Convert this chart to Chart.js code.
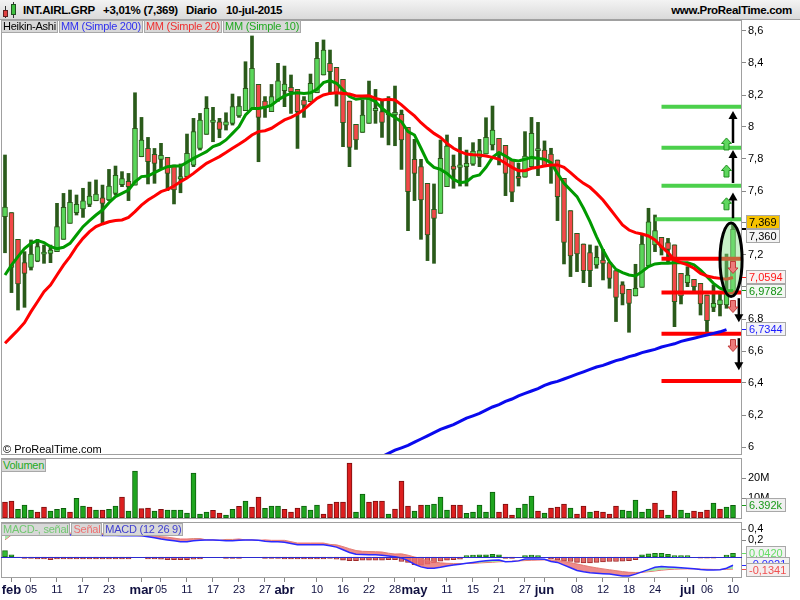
<!DOCTYPE html>
<html>
<head>
<meta charset="utf-8">
<title>INT.AIRL.GRP - Diario</title>
<script src="https://cdn.jsdelivr.net/npm/chart.js@4.4.1/dist/chart.umd.min.js"></script>
<style>
  body { margin: 0; background: #fff; font-family: 'Liberation Sans', Arial, sans-serif; }
  #wrap { position: relative; width: 800px; height: 600px; overflow: hidden; background: #fff; }
  canvas { position: absolute; left: 0; }
  #hdr { position: absolute; left: 0; top: 0; width: 800px; height: 19px; background: linear-gradient(#f3f3f3, #dadada); border-bottom: 1px solid #a0a0a0; }
  .ht { position: absolute; top: 3px; font-weight: bold; font-size: 11.5px; letter-spacing: -0.3px; line-height: 14px; color: #000; white-space: nowrap; }
  .lgrow { position: absolute; left: 1px; display: flex; }
  .lg { font-size: 11px; letter-spacing: -0.25px; line-height: 11px; height: 11px; padding: 0 1px; background: #d8d8d8; border: 1px solid #a8a8a8; margin-right: 1px; white-space: nowrap; }
  .note { position: absolute; font-size: 11px; color: #000; white-space: nowrap; }
  .ic { position: absolute; }
</style>
</head>
<body>
<div id="wrap">
  <div id="hdr">
    <div class="ic" style="left:5px;top:6px;width:1px;height:12px;background:#333"></div>
    <div class="ic" style="left:3px;top:10px;width:3px;height:5px;background:#e04040;border:1px solid #602020"></div>
    <div class="ic" style="left:13px;top:2px;width:1px;height:16px;background:#333"></div>
    <div class="ic" style="left:11px;top:4px;width:3px;height:9px;background:#40c040;border:1px solid #205020"></div>
    <span class="ht" style="left:23px">INT.AIRL.GRP</span>
    <span class="ht" style="left:103px">+3,01% (7,369)</span>
    <span class="ht" style="left:186px">Diario</span>
    <span class="ht" style="left:226px">10-jul-2015</span>
    <span class="ht" style="right:8px">www.ProRealTime.com</span>
  </div>

  <canvas id="cPrice" width="800" height="435" style="top:20px"></canvas>
  <canvas id="cVol" width="800" height="61" style="top:458px"></canvas>
  <canvas id="cMacd" width="800" height="78" style="top:522px"></canvas>

  <div class="lgrow" style="top:20px">
    <div class="lg" style="color:#000">Heikin-Ashi</div>
    <div class="lg" style="color:#3030ee">MM (Simple 200)</div>
    <div class="lg" style="color:#ee3030">MM (Simple 20)</div>
    <div class="lg" style="color:#22aa22">MM (Simple 10)</div>
  </div>
  <div class="note" style="left:3px;top:443px">© ProRealTime.com</div>
  <div class="lgrow" style="top:459px">
    <div class="lg" style="color:#22aa22">Volumen</div>
  </div>
  <div class="lgrow" style="top:523px">
    <div class="lg" style="color:#70c870">MACD-, señal</div>
    <div class="lg" style="color:#ee7070">Señal</div>
    <div class="lg" style="color:#4040d0">MACD (12 26 9)</div>
  </div>
</div>

<script>
// sessions from 30 Jan 2015 to 10 Jul 2015; x index 0 = 2 Feb
const xStart = -1;
const xMin = -1.615, xMax = 112.385;

const tickIdx = [0, 3, 7, 11, 15, 20, 23, 27, 31, 35, 39, 42, 47, 51, 55, 59,
                 62, 67, 71, 75, 79, 82, 87, 91, 95, 99, 104, 107, 111];
const tickText = ['feb', '05', '11', '17', '23', 'mar', '05', '11', '17', '23', '27', 'abr', '10', '16', '22', '28',
                  'may', '11', '15', '21', '27', 'jun', '08', '12', '18', '24', 'jul', '06', '10'];
const monthNames = ['feb', 'mar', 'abr', 'may', 'jun', 'jul'];

// Heikin-Ashi candles
const haOpen = [
  7.44, 7.465, 7.298, 7.152, 7.123, 7.162, 7.205, 7.21, 7.221, 7.298,
  7.398, 7.465, 7.488, 7.516, 7.539, 7.558, 7.544, 7.585, 7.64, 7.66,
  7.637, 7.814, 7.866, 7.829, 7.798, 7.81, 7.762, 7.675, 7.69, 7.762,
  7.866, 7.954, 8.029, 8.033, 8.012, 8.023, 8.069, 8.102, 8.112, 8.266,
  8.162, 8.096, 8.169, 8.227, 8.248, 8.235, 8.169, 8.158, 8.214, 8.325,
  8.398, 8.373, 8.298, 8.162, 8.016, 7.966, 8.023, 8.102, 8.096, 8.085,
  8.075, 8.079, 7.998, 7.798, 7.752, 7.648, 7.486, 7.46, 7.627, 7.756,
  7.748, 7.752, 7.767, 7.81, 7.831, 7.888, 7.929, 7.885, 7.798, 7.69,
  7.686, 7.752, 7.852, 7.856, 7.831, 7.794, 7.679, 7.477, 7.335, 7.269,
  7.215, 7.138, 7.169, 7.152, 7.102, 7.013, 6.985, 6.944, 6.998, 7.131,
  7.263, 7.31, 7.277, 7.263, 7.085, 7.027, 7.048, 7.023, 6.95, 6.873,
  6.89, 6.888, 6.96];
const haHigh = [
  7.825, 7.465, 7.298, 7.221, 7.294, 7.298, 7.262, 7.262, 7.523, 7.585,
  7.606, 7.575, 7.617, 7.656, 7.669, 7.637, 7.735, 7.756, 7.721, 7.71,
  8.214, 8.06, 7.935, 7.866, 7.898, 7.81, 7.762, 7.769, 7.956, 8.054,
  8.085, 8.19, 8.123, 8.054, 8.089, 8.206, 8.19, 8.408, 8.569, 8.266,
  8.19, 8.266, 8.398, 8.381, 8.325, 8.235, 8.19, 8.331, 8.529, 8.544,
  8.481, 8.373, 8.298, 8.162, 8.016, 8.169, 8.287, 8.235, 8.169, 8.19,
  8.256, 8.106, 7.998, 7.923, 7.798, 7.648, 7.644, 7.919, 7.95, 7.825,
  7.935, 7.856, 7.902, 7.923, 8.058, 8.131, 7.929, 7.885, 7.798, 7.773,
  7.971, 8.06, 8.029, 7.913, 7.867, 7.794, 7.679, 7.477, 7.335, 7.269,
  7.263, 7.256, 7.235, 7.152, 7.102, 7.033, 6.985, 7.142, 7.325, 7.492,
  7.45, 7.31, 7.304, 7.263, 7.085, 7.127, 7.048, 7.023, 6.95, 7.013,
  6.96, 7.206, 7.388];
const haLow = [
  7.214, 6.965, 6.856, 6.873, 7.106, 7.158, 7.148, 7.152, 7.221, 7.298,
  7.398, 7.45, 7.435, 7.502, 7.539, 7.394, 7.54, 7.575, 7.627, 7.54,
  7.637, 7.814, 7.644, 7.648, 7.741, 7.602, 7.519, 7.589, 7.69, 7.752,
  7.856, 7.954, 7.908, 7.933, 7.981, 8.012, 8.06, 8.102, 8.112, 7.783,
  8.06, 8.096, 8.16, 8.127, 8.085, 7.866, 8.06, 8.158, 8.214, 8.325,
  8.214, 8.131, 7.877, 7.752, 7.86, 7.966, 8.023, 8.023, 7.935, 7.888,
  7.883, 7.735, 7.352, 7.54, 7.298, 7.165, 7.148, 7.46, 7.627, 7.617,
  7.631, 7.631, 7.76, 7.752, 7.831, 7.856, 7.763, 7.571, 7.533, 7.631,
  7.686, 7.752, 7.696, 7.756, 7.648, 7.415, 7.144, 7.065, 7.096, 7.027,
  7.002, 7.117, 7.044, 6.992, 6.784, 6.888, 6.717, 6.944, 6.998, 7.131,
  7.221, 7.2, 7.158, 6.752, 6.894, 7.002, 6.971, 6.825, 6.721, 6.846,
  6.819, 6.867, 6.96];
const haClose = [
  7.50, 7.123, 7.019, 7.085, 7.206, 7.252, 7.212, 7.231, 7.377, 7.498,
  7.529, 7.516, 7.539, 7.569, 7.581, 7.523, 7.631, 7.698, 7.677, 7.627,
  7.991, 7.919, 7.783, 7.773, 7.823, 7.71, 7.606, 7.69, 7.835, 7.971,
  8.044, 8.116, 8.044, 7.985, 8.033, 8.127, 8.131, 8.241, 8.366, 8.06,
  8.127, 8.19, 8.289, 8.269, 8.221, 8.096, 8.137, 8.273, 8.429, 8.481,
  8.346, 8.21, 8.027, 7.873, 7.919, 8.075, 8.175, 8.117, 8.029, 8.075,
  8.092, 7.919, 7.596, 7.71, 7.544, 7.325, 7.429, 7.804, 7.881, 7.735,
  7.763, 7.773, 7.85, 7.852, 7.935, 7.981, 7.831, 7.71, 7.592, 7.679,
  7.819, 7.96, 7.861, 7.756, 7.773, 7.565, 7.279, 7.194, 7.206, 7.102,
  7.102, 7.185, 7.148, 7.054, 6.935, 6.956, 6.898, 6.992, 7.269, 7.408,
  7.352, 7.248, 7.235, 6.908, 6.944, 7.075, 7.002, 6.894, 6.79, 6.898,
  6.92, 6.96, 7.36];

// moving averages
const ma10 = [
  7.075, 7.137, 7.19, 7.24, 7.273, 7.29, 7.277, 7.252, 7.24, 7.248,
  7.273, 7.325, 7.377, 7.415, 7.45, 7.481, 7.527, 7.565, 7.585, 7.606,
  7.658, 7.69, 7.694, 7.715, 7.735, 7.752, 7.756, 7.756, 7.78, 7.804,
  7.825, 7.846, 7.877, 7.892, 7.919, 7.96, 8.002, 8.075, 8.116, 8.116,
  8.123, 8.137, 8.169, 8.194, 8.21, 8.214, 8.21, 8.214, 8.235, 8.277,
  8.29, 8.273, 8.231, 8.19, 8.173, 8.179, 8.179, 8.158, 8.117, 8.085,
  8.06, 8.033, 7.971, 7.95, 7.867, 7.783, 7.748, 7.735, 7.71, 7.673,
  7.652, 7.658, 7.69, 7.7, 7.748, 7.81, 7.84, 7.819, 7.794, 7.788,
  7.798, 7.81, 7.804, 7.798, 7.777, 7.71, 7.648, 7.606, 7.565, 7.492,
  7.408, 7.315, 7.231, 7.158, 7.11, 7.09, 7.075, 7.069, 7.096, 7.127,
  7.144, 7.148, 7.148, 7.152, 7.152, 7.152, 7.138, 7.106, 7.065, 7.023,
  6.992, 6.977, 6.978];
const ma20 = [
  6.648, 6.69, 6.731, 6.777, 6.846, 6.908, 6.971, 7.012, 7.075, 7.137,
  7.19, 7.252, 7.304, 7.346, 7.377, 7.394, 7.408, 7.415, 7.419, 7.435,
  7.471, 7.512, 7.544, 7.569, 7.596, 7.61, 7.631, 7.658, 7.682, 7.71,
  7.742, 7.773, 7.794, 7.815, 7.84, 7.867, 7.892, 7.919, 7.95, 7.971,
  7.977, 7.992, 8.019, 8.044, 8.06, 8.081, 8.11, 8.144, 8.179, 8.2,
  8.21, 8.214, 8.21, 8.206, 8.194, 8.194, 8.196, 8.179, 8.169, 8.173,
  8.169, 8.138, 8.102, 8.069, 8.027, 7.992, 7.96, 7.935, 7.898, 7.867,
  7.846, 7.831, 7.827, 7.825, 7.819, 7.81, 7.798, 7.773, 7.748, 7.727,
  7.727, 7.742, 7.748, 7.756, 7.763, 7.763, 7.748, 7.715, 7.679, 7.648,
  7.623, 7.585, 7.544, 7.492, 7.44, 7.388, 7.356, 7.34, 7.331, 7.319,
  7.294, 7.252, 7.215, 7.169, 7.152, 7.138, 7.117, 7.085, 7.069, 7.06,
  7.054, 7.048, 7.059];
// MM 200 only enters the view from mid April (index 56 on)
const ma200From = 56;
const ma200 = [
  5.90, 5.92, 5.94, 5.96, 5.98, 5.995, 6.01, 6.03, 6.05, 6.07,
  6.09, 6.11, 6.125, 6.14, 6.16, 6.18, 6.195, 6.21, 6.23, 6.25,
  6.265, 6.285, 6.30, 6.32, 6.335, 6.35, 6.365, 6.385, 6.40, 6.41,
  6.425, 6.44, 6.455, 6.47, 6.485, 6.50, 6.51, 6.525, 6.54, 6.55,
  6.565, 6.575, 6.59, 6.60, 6.61, 6.625, 6.635, 6.645, 6.66, 6.67,
  6.68, 6.69, 6.70, 6.71, 6.72, 6.734];

// volume in millions, 1 = up day (green)
const volume = [
  8.0, 8.5, 4.3, 6.5, 4.0, 3.0, 5.5, 3.5, 4.3, 4.8,
  3.0, 9.8, 6.0, 5.5, 4.0, 4.0, 4.3, 6.0, 10.5, 3.5,
  23.5, 4.7, 5.0, 3.5, 4.3, 4.0, 4.0, 4.0, 2.5, 22.5,
  2.0, 3.0, 3.8, 2.5, 1.5, 4.3, 5.8, 8.5, 5.5, 10.5,
  4.8, 6.0, 6.0, 4.3, 3.0, 5.0, 6.0, 4.0, 6.5, 2.0,
  7.0, 8.0, 8.0, 27.5, 3.0, 12.0, 8.0, 8.5, 8.5, 2.0,
  4.5, 18.5, 6.0, 3.5, 6.5, 6.5, 7.0, 10.5, 4.0, 6.5,
  6.5, 2.3, 3.0, 6.5, 3.0, 13.0, 3.0, 7.0, 1.5, 5.0,
  7.0, 11.0, 3.5, 2.5, 5.0, 5.5, 7.0, 5.0, 2.0, 6.0,
  3.0, 3.5, 3.0, 2.0, 6.0, 4.0, 3.5, 9.0, 3.0, 4.5,
  7.5, 4.0, 1.5, 13.5, 4.0, 2.5, 3.5, 3.0, 4.0, 7.5,
  4.5, 5.5, 6.392];
const volUp = [
  0, 0, 1, 1, 1, 0, 0, 1, 1, 1,
  0, 1, 1, 0, 1, 0, 1, 1, 0, 1,
  1, 0, 0, 1, 0, 1, 1, 1, 1, 1,
  1, 1, 0, 0, 1, 1, 0, 1, 0, 0,
  1, 1, 1, 0, 0, 0, 1, 1, 1, 0,
  0, 0, 0, 0, 1, 1, 0, 0, 0, 1,
  0, 0, 0, 1, 0, 1, 1, 1, 1, 0,
  0, 1, 1, 1, 1, 1, 0, 0, 0, 1,
  1, 1, 0, 1, 0, 0, 0, 1, 0, 0,
  1, 0, 0, 0, 0, 1, 1, 1, 1, 1,
  0, 0, 1, 0, 1, 1, 0, 0, 0, 1,
  0, 1, 1];

// MACD (12 26 9)
const macdLine = [
  0.26, 0.27, 0.27, 0.265, 0.26, 0.255, 0.25, 0.25, 0.245, 0.245,
  0.245, 0.245, 0.245, 0.245, 0.245, 0.24, 0.24, 0.24, 0.235, 0.235,
  0.24, 0.235, 0.225, 0.215, 0.2, 0.19, 0.18, 0.17, 0.17, 0.18,
  0.185, 0.19, 0.19, 0.185, 0.18, 0.18, 0.185, 0.19, 0.19, 0.185,
  0.175, 0.17, 0.17, 0.165, 0.15, 0.135, 0.135, 0.135, 0.135, 0.135,
  0.125, 0.11, 0.08, 0.05, 0.03, 0.028, 0.026, 0.024, 0.02, 0.012,
  0.003, -0.01, -0.04, -0.08, -0.11, -0.126, -0.125, -0.115, -0.1, -0.09,
  -0.08, -0.07, -0.06, -0.05, -0.042, -0.035, -0.033, -0.052, -0.05, -0.043,
  -0.022, -0.022, -0.022, -0.025, -0.05, -0.06, -0.09, -0.12, -0.15, -0.165,
  -0.175, -0.18, -0.185, -0.19, -0.2, -0.21, -0.21, -0.19, -0.165, -0.14,
  -0.115, -0.105, -0.11, -0.115, -0.12, -0.125, -0.13, -0.14, -0.145, -0.145,
  -0.142, -0.125, -0.092];
const signalLine = [
  0.19, 0.245, 0.275, 0.28, 0.275, 0.277, 0.272, 0.28, 0.267, 0.265,
  0.265, 0.265, 0.265, 0.267, 0.265, 0.262, 0.262, 0.262, 0.257, 0.257,
  0.24, 0.235, 0.245, 0.237, 0.225, 0.22, 0.21, 0.2, 0.2, 0.205,
  0.205, 0.19, 0.19, 0.185, 0.195, 0.195, 0.2, 0.19, 0.19, 0.185,
  0.19, 0.185, 0.185, 0.185, 0.17, 0.155, 0.155, 0.155, 0.155, 0.155,
  0.14, 0.135, 0.115, 0.092, 0.072, 0.063, 0.061, 0.059, 0.055, 0.042,
  0.033, 0.035, 0.02, 0.0, -0.02, -0.04, -0.055, -0.065, -0.07, -0.072,
  -0.072, -0.072, -0.07, -0.066, -0.062, -0.058, -0.053, -0.05, -0.047, -0.043,
  -0.04, -0.036, -0.034, -0.032, -0.033, -0.038, -0.048, -0.062, -0.078, -0.093,
  -0.108, -0.12, -0.132, -0.142, -0.152, -0.162, -0.17, -0.172, -0.17, -0.163,
  -0.155, -0.146, -0.14, -0.135, -0.133, -0.132, -0.132, -0.134, -0.136, -0.138,
  -0.139, -0.137, -0.134];
const macdHist = [
  0.07, 0.025, -0.005, -0.015, -0.015, -0.022, -0.022, -0.03, -0.022, -0.02,
  -0.02, -0.02, -0.02, -0.022, -0.02, -0.022, -0.022, -0.022, -0.022, -0.022,
  0, 0, -0.02, -0.022, -0.025, -0.03, -0.03, -0.03, -0.03, -0.025,
  -0.02, 0, 0, 0, -0.015, -0.015, -0.015, 0, 0, 0,
  -0.015, -0.015, -0.015, -0.02, -0.02, -0.02, -0.02, -0.02, -0.02, -0.02,
  -0.015, -0.025, -0.035, -0.042, -0.042, -0.035, -0.035, -0.035, -0.035, -0.03,
  -0.03, -0.05, -0.06, -0.085, -0.09, -0.08, -0.065, -0.045, -0.035, -0.03,
  -0.025, 0.015, 0.02, 0.025, 0.025, 0.03, 0.025, -0.015, -0.015, 0,
  0.015, 0.02, 0.015, 0, -0.02, -0.035, -0.045, -0.05, -0.06, -0.065,
  -0.065, -0.06, -0.055, -0.05, -0.05, -0.045, -0.04, -0.03, 0.025, 0.035,
  0.04, 0.04, 0.03, 0.015, 0.015, 0.015, 0, -0.012, -0.012, -0.012,
  0, 0.02, 0.042];

// axes
const priceTicks = [6, 6.2, 6.4, 6.6, 6.8, 7, 7.2, 7.4, 7.6, 7.8, 8, 8.2, 8.4, 8.6];
const volTicks = [10, 20];
const macdTicks = [0.4, 0.2];

// drawn targets on the right side
const greenLevels = [8.127, 7.871, 7.633, 7.423];
const greenFrom = [100, 100, 100, 99];
const redLevels = [7.177, 6.965, 6.708, 6.412];
const redFrom = [100, 100, 100, 100];
const upArrows = [[7.43, 7.59], [7.65, 7.856], [7.90, 8.10]];
const upArrowX = 111;
const downArrows = [[6.93, 6.78], [6.68, 6.48]];
const downArrowX = 111.9;
const upMarks = [7.52, 7.725, 7.894];
const upMarkX = 110;
const downMarks = [7.122, 6.878, 6.634];
const downMarkX = 111;
const ellipse = { x: 110.7, y: 7.17, dx: 1.7, dy: 0.23 };

// last values shown on the axes
const priceTagVals = [7.369, 7.360, 7.0594, 6.9782, 6.7344];
const priceTagText = ['7,369', '7,360', '7,0594', '6,9782', '6,7344'];
const volTagVals = [6.392];
const volTagText = ['6.392k'];
const macdTagVals = [0.042, -0.0921, -0.1341];
const macdTagText = ['0,0420', '-0,0921', '-0,1341'];

Chart.defaults.font.family = "'Liberation Sans', Arial, sans-serif";
Chart.defaults.font.size = 11;
Chart.defaults.color = '#000';

function pts(arr, from) {
  from = from || 0;
  return arr.map((v, k) => ({x: k + from + xStart, y: v}));
}
function fmt(v) {
  return Number.isInteger(v) ? String(v) : v.toFixed(1).replace('.', ',');
}
function fitRight(s) {
  s.width = 58;
  s.paddingTop = 0;
  s.paddingBottom = 0;
}

const framePlugin = {
  id: 'frame',
  afterDatasetsDraw(chart) {
    const a = chart.chartArea, c = chart.ctx;
    c.save();
    c.strokeStyle = '#a0a0a0';
    c.lineWidth = 1;
    c.strokeRect(a.left + 0.5, a.top + 0.5, a.right - a.left - 1, a.bottom - a.top - 1);
    c.restore();
  }
};

function drawTags(chart, scaleId, vals, texts, fgs, bgs, gap) {
  const c = chart.ctx, ys = chart.scales[scaleId], right = chart.chartArea.right;
  const items = vals.map((v, k) => ({k: k, v: v, y: ys.getPixelForValue(v)}));
  const sorted = items.slice().sort((a, b) => a.y - b.y);
  for (let k = 1; k < sorted.length; k++) {
    const a = sorted[k - 1], b = sorted[k];
    if (b.y - a.y < gap) {
      const m = (a.y + b.y) / 2;
      a.y = m - gap / 2;
      b.y = m + gap / 2;
    }
  }
  c.save();
  c.font = "11px 'Liberation Sans', Arial, sans-serif";
  c.textBaseline = 'middle';
  items.forEach(it => {
    const ty = Math.round(ys.getPixelForValue(it.v)) + 0.5;
    c.strokeStyle = fgs[it.k];
    c.lineWidth = 1;
    c.beginPath(); c.moveTo(right, ty); c.lineTo(right + 4, ty); c.stroke();
    const w = Math.ceil(c.measureText(texts[it.k]).width) + 6, h = 14;
    const top = Math.round(it.y - h / 2);
    c.fillStyle = bgs[it.k];
    c.fillRect(right + 4, top, w, h);
    c.strokeStyle = '#a8a8a8';
    c.strokeRect(right + 4.5, top + 0.5, w - 1, h - 1);
    c.fillStyle = fgs[it.k];
    c.fillText(texts[it.k], right + 7, top + h / 2 + 0.5);
  });
  c.restore();
}

function blockArrow(c, x, y, up, fill, line) {
  const s = up ? -1 : 1;
  c.beginPath();
  c.moveTo(x, y + s * 6);
  c.lineTo(x - 5, y + s * 0.5);
  c.lineTo(x - 2.5, y + s * 0.5);
  c.lineTo(x - 2.5, y - s * 6);
  c.lineTo(x + 2.5, y - s * 6);
  c.lineTo(x + 2.5, y + s * 0.5);
  c.lineTo(x + 5, y + s * 0.5);
  c.closePath();
  c.fillStyle = fill; c.fill();
  c.strokeStyle = line; c.lineWidth = 1; c.stroke();
}

function lineArrow(c, x, y0, y1) {
  const s = y1 < y0 ? 1 : -1;
  c.strokeStyle = '#000';
  c.lineWidth = 2.5;
  c.beginPath(); c.moveTo(x, y0); c.lineTo(x, y1 + s * 6); c.stroke();
  c.fillStyle = '#000';
  c.beginPath();
  c.moveTo(x, y1);
  c.lineTo(x - 4.5, y1 + s * 8);
  c.lineTo(x + 4.5, y1 + s * 8);
  c.closePath();
  c.fill();
}

const pricePlugin = {
  id: 'priceMarks',
  afterDatasetsDraw(chart) {
    const c = chart.ctx, xs = chart.scales.x, ys = chart.scales.y;
    c.save();
    // ellipse round the last sessions
    const ex = xs.getPixelForValue(ellipse.x), ey = ys.getPixelForValue(ellipse.y);
    const rx = xs.getPixelForValue(ellipse.x + ellipse.dx) - ex;
    const ry = ey - ys.getPixelForValue(ellipse.y + ellipse.dy);
    c.beginPath();
    c.ellipse(ex, ey, rx, ry, 0, 0, Math.PI * 2);
    c.fillStyle = 'rgba(130,225,130,0.45)';
    c.fill();
    c.strokeStyle = '#000';
    c.lineWidth = 3;
    c.stroke();
    upArrows.forEach(a => lineArrow(c, xs.getPixelForValue(upArrowX), ys.getPixelForValue(a[0]), ys.getPixelForValue(a[1])));
    downArrows.forEach(a => lineArrow(c, xs.getPixelForValue(downArrowX), ys.getPixelForValue(a[0]), ys.getPixelForValue(a[1])));
    upMarks.forEach(v => blockArrow(c, xs.getPixelForValue(upMarkX), ys.getPixelForValue(v), true, '#5fd85f', '#1f8f1f'));
    downMarks.forEach(v => blockArrow(c, xs.getPixelForValue(downMarkX), ys.getPixelForValue(v), false, '#ec7b7b', '#c03a3a'));
    c.restore();
  },
  afterDraw(chart) {
    drawTags(chart, 'y', priceTagVals, priceTagText,
      ['#000', '#000', '#ff1a1a', '#109010', '#1a1aff'],
      ['#f6c200', '#f4f4f4', '#f8f2f2', '#f2f8f2', '#f2f2f8'], 14);
  }
};

// ---------- price panel ----------
const bodyColors = haOpen.map((o, k) => haClose[k] >= o ? '#5ad65a' : '#f24848');
const levelSets = [];
greenLevels.forEach((v, k) => levelSets.push({
  type: 'line', data: [{x: greenFrom[k], y: v}, {x: xMax, y: v}],
  borderColor: '#4cd04c', borderWidth: 4, pointRadius: 0, order: 1
}));
redLevels.forEach((v, k) => levelSets.push({
  type: 'line', data: [{x: redFrom[k], y: v}, {x: xMax, y: v}],
  borderColor: '#ff0000', borderWidth: 4, pointRadius: 0, order: 1
}));

new Chart(document.getElementById('cPrice'), {
  type: 'bar',
  data: {
    datasets: [
      {type: 'line', label: 'MM (Simple 200)', data: pts(ma200, ma200From), borderColor: '#0a0aee', borderWidth: 3, pointRadius: 0, order: 0},
      {type: 'line', label: 'MM (Simple 20)', data: pts(ma20), borderColor: '#ff0000', borderWidth: 3, pointRadius: 0, order: 0},
      {type: 'line', label: 'MM (Simple 10)', data: pts(ma10), borderColor: '#009a00', borderWidth: 3, pointRadius: 0, order: 0}
    ].concat(levelSets).concat([
      {type: 'bar', label: 'body', data: haOpen.map((o, k) => ({x: k + xStart, y: [o, haClose[k]]})),
       backgroundColor: bodyColors, borderColor: '#2a5a1a', borderWidth: 1, borderSkipped: false,
       barThickness: 5, minBarLength: 2, grouped: false, order: 2},
      {type: 'bar', label: 'wick', data: haLow.map((l, k) => ({x: k + xStart, y: [l, haHigh[k]]})),
       backgroundColor: '#2a5a1a', borderWidth: 0, barThickness: 3, grouped: false, order: 3}
    ])
  },
  options: {
    responsive: false, animation: false, events: [],
    layout: {padding: {left: 1, right: 0, top: 0, bottom: 0}},
    plugins: {legend: {display: false}, tooltip: {enabled: false}},
    scales: {
      x: {type: 'linear', min: xMin, max: xMax, display: false, offset: false, grid: {offset: false}},
      y: {
        position: 'right', min: 5.95, max: 8.66875,
        afterBuildTicks: s => { s.ticks = priceTicks.map(v => ({value: v})); },
        afterFit: fitRight,
        ticks: {callback: v => fmt(v), padding: 2, color: '#000', font: {size: 11}},
        grid: {drawOnChartArea: false, drawTicks: true, tickLength: 4, color: '#888'},
        border: {display: false}
      }
    }
  },
  plugins: [framePlugin, pricePlugin]
});

// ---------- volume panel ----------
new Chart(document.getElementById('cVol'), {
  type: 'bar',
  data: {
    datasets: [{
      label: 'Volumen', data: pts(volume),
      backgroundColor: volUp.map(u => u ? '#1fa51f' : '#dd1f1f'),
      borderColor: volUp.map(u => u ? '#0d5e0d' : '#7a0e0e'),
      borderWidth: 1, borderSkipped: false, barThickness: 5, grouped: false
    }]
  },
  options: {
    responsive: false, animation: false, events: [],
    layout: {padding: {left: 1, right: 0, top: 0, bottom: 0}},
    plugins: {legend: {display: false}, tooltip: {enabled: false}},
    scales: {
      x: {type: 'linear', min: xMin, max: xMax, display: false, offset: false, grid: {offset: false}},
      y: {
        position: 'right', min: -0.5, max: 30,
        afterBuildTicks: s => { s.ticks = volTicks.map(v => ({value: v})); },
        afterFit: fitRight,
        ticks: {callback: v => v + 'M', padding: 2, color: '#000', font: {size: 11}},
        grid: {drawOnChartArea: false, drawTicks: true, tickLength: 4, color: '#888'},
        border: {display: false}
      }
    }
  },
  plugins: [framePlugin, {
    id: 'volTag',
    afterDraw(chart) {
      drawTags(chart, 'y', volTagVals, volTagText, ['#1a9a1a'], ['#f0f0f0'], 14);
    }
  }]
});

// ---------- MACD panel ----------
new Chart(document.getElementById('cMacd'), {
  type: 'bar',
  data: {
    datasets: [
      {type: 'line', label: 'MACD', data: pts(macdLine), borderColor: '#2a2aff', borderWidth: 1.5, pointRadius: 0,
       fill: {target: 1, above: 'rgba(160,228,160,0.9)', below: 'rgba(232,110,110,0.8)'}, order: 1, yAxisID: 'y'},
      {type: 'line', label: 'Señal', data: pts(signalLine), borderColor: '#f06a6a', borderWidth: 1, pointRadius: 0,
       fill: false, order: 2, yAxisID: 'y'},
      {type: 'bar', label: 'MACD-, señal', data: pts(macdHist),
       backgroundColor: macdHist.map(v => v >= 0 ? '#33bb33' : '#e06a6a'),
       borderColor: macdHist.map(v => v >= 0 ? '#167016' : '#a02a2a'),
       borderWidth: 1, borderSkipped: false, barThickness: 5, grouped: false, order: 3, yAxisID: 'y'}
    ]
  },
  options: {
    responsive: false, animation: false, events: [],
    layout: {padding: {left: 1, right: 0, top: 0, bottom: 0}},
    plugins: {legend: {display: false}, tooltip: {enabled: false}},
    scales: {
      x: {
        type: 'linear', position: 'bottom', min: xMin, max: xMax, offset: false,
        afterBuildTicks: s => { s.ticks = tickIdx.map(v => ({value: v})); },
        afterFit: s => { s.height = 22; s.paddingLeft = 0; s.paddingRight = 0; },
        ticks: {
          autoSkip: false, maxRotation: 0, padding: 1, color: '#101040',
          callback: (v, k) => tickText[k],
          font: c => monthNames.includes(tickText[c.index]) ? {size: 13, weight: 'bold'} : {size: 11}
        },
        grid: {drawOnChartArea: false, drawTicks: true, tickLength: 4, color: '#888', offset: false},
        border: {display: false}
      },
      y: {position: 'right', display: false, min: -0.2333, max: 0.3889},
      yl: {
        position: 'right', min: -0.4909, max: 0.5273,
        afterBuildTicks: s => { s.ticks = macdTicks.map(v => ({value: v})); },
        afterFit: fitRight,
        ticks: {callback: v => fmt(v), padding: 2, color: '#000', font: {size: 11}},
        grid: {drawOnChartArea: false, drawTicks: true, tickLength: 4, color: '#888'},
        border: {display: false}
      }
    }
  },
  plugins: [framePlugin, {
    id: 'macdMarks',
    afterDatasetsDraw(chart) {
      const c = chart.ctx, a = chart.chartArea;
      const y0 = Math.round(chart.scales.y.getPixelForValue(0)) + 0.5;
      c.save();
      c.strokeStyle = '#2a2ad0';
      c.lineWidth = 1;
      c.beginPath(); c.moveTo(a.left, y0); c.lineTo(a.right, y0); c.stroke();
      c.restore();
    },
    afterDraw(chart) {
      drawTags(chart, 'y', macdTagVals, macdTagText,
        ['#66dd66', '#2a2aff', '#f05050'], ['#f2f2f2', '#f2f2f2', '#f4eeee'], 6);
    }
  }]
});
</script>
</body>
</html>
